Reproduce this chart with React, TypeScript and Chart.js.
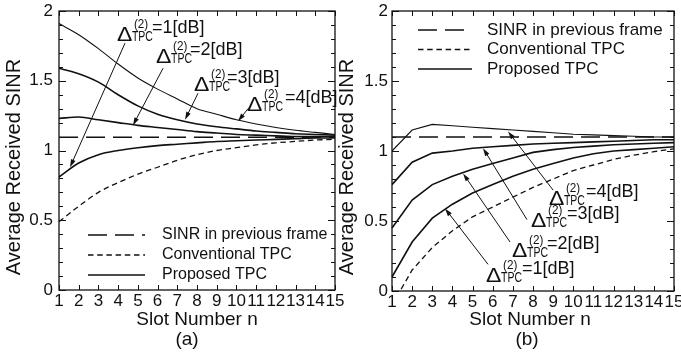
import React, { useEffect, useRef } from 'react';
import { Chart, registerables } from 'chart.js';

Chart.register(...registerables);

// ---------- data ----------
const SLOTS = ['1', '2', '3', '4', '5', '6', '7', '8', '9', '10', '11', '12', '13', '14', '15'];
const Y_TICKS = [0, 0.5, 1, 1.5, 2];

const LEGEND_LABELS = ['SINR in previous frame', 'Conventional TPC', 'Proposed TPC'];
const DELTA_VALUES = ['1', '2', '3', '4'];

// (a)
const A_PREV = [1.095, 1.095, 1.095, 1.095, 1.095, 1.095, 1.095, 1.095, 1.095, 1.095, 1.095, 1.095, 1.095, 1.095, 1.095];
const A_CONV = [0.49, 0.6, 0.7, 0.77, 0.83, 0.88, 0.93, 0.97, 1.0, 1.02, 1.04, 1.055, 1.065, 1.075, 1.08];
const A_D1 = [0.81, 0.91, 0.97, 1.0, 1.02, 1.035, 1.045, 1.055, 1.065, 1.07, 1.075, 1.08, 1.085, 1.09, 1.09];
const A_D2 = [1.23, 1.24, 1.22, 1.2, 1.18, 1.165, 1.15, 1.135, 1.125, 1.115, 1.11, 1.105, 1.1, 1.1, 1.1];
const A_D3 = [1.59, 1.55, 1.49, 1.4, 1.32, 1.26, 1.22, 1.19, 1.17, 1.155, 1.14, 1.13, 1.12, 1.115, 1.11];
const A_D4 = [1.91, 1.83, 1.73, 1.62, 1.52, 1.44, 1.37, 1.3, 1.26, 1.22, 1.19, 1.165, 1.145, 1.13, 1.115];

// (b)
const B_PREV = [1.1, 1.1, 1.1, 1.1, 1.1, 1.1, 1.1, 1.1, 1.1, 1.1, 1.1, 1.1, 1.1, 1.1, 1.1];
const B_CONV = [-0.1, 0.15, 0.31, 0.43, 0.53, 0.6, 0.67, 0.74, 0.8, 0.86, 0.9, 0.94, 0.97, 0.995, 1.015];
const B_D1 = [0.1, 0.35, 0.52, 0.62, 0.7, 0.76, 0.82, 0.87, 0.91, 0.95, 0.98, 1.0, 1.01, 1.02, 1.03];
const B_D2 = [0.45, 0.65, 0.76, 0.82, 0.87, 0.91, 0.95, 0.99, 1.01, 1.025, 1.035, 1.045, 1.05, 1.055, 1.06];
const B_D3 = [0.76, 0.92, 0.985, 1.0, 1.02, 1.03, 1.04, 1.05, 1.055, 1.06, 1.065, 1.07, 1.075, 1.08, 1.08];
const B_D4 = [1.0, 1.15, 1.19, 1.18, 1.17, 1.16, 1.15, 1.14, 1.13, 1.12, 1.115, 1.11, 1.105, 1.1, 1.1];

// ---------- styling / layout ----------
const FONT = "'Liberation Sans', Arial, Helvetica, sans-serif";
const INK = '#111111';
const DASH_PREV = [19, 8];
const DASH_CONV = [5.5, 3.7];

type Note = { tail: [number, number]; tip: [number, number]; at: [number, number]; eq: number };
type Panel = {
  prev: number[];
  conv: number[];
  proposed: number[][];
  smooth: boolean;
  pad: { left: number; right: number; top: number; bottom: number };
  yWidth: number;
  xHeight: number;
  yTickPad: number;
  yTitle: { x: number; y: number };
  xTitle: { x: number; y: number };
  tag: { text: string; x: number; y: number };
  legend: { x0: number; x1: number; tx: number; rows: number[]; size: number };
  notes: Note[];
};

const PANEL_A: Panel = {
  prev: A_PREV,
  conv: A_CONV,
  proposed: [A_D1, A_D2, A_D3, A_D4],
  smooth: true,
  pad: { left: 0, right: 346, top: 11, bottom: 0 },
  yWidth: 59,
  xHeight: 66,
  yTickPad: 6,
  yTitle: { x: 14, y: 167 },
  xTitle: { x: 197, y: 320 },
  tag: { text: '(a)', x: 187, y: 340 },
  legend: { x0: 88, x1: 145, tx: 162, rows: [235, 255, 275], size: 16 },
  notes: [
    { tail: [4.35, 1.77], tip: [1.56, 0.88], at: [3.99, 1.843], eq: 34 },
    { tail: [6.28, 1.59], tip: [4.75, 1.18], at: [5.97, 1.686], eq: 33 },
    { tail: [8.05, 1.41], tip: [7.39, 1.22], at: [7.9, 1.486], eq: 32 },
    { tail: [10.59, 1.3], tip: [10.08, 1.21], at: [10.59, 1.343], eq: 37 },
  ],
};

const PANEL_B: Panel = {
  prev: B_PREV,
  conv: B_CONV,
  proposed: [B_D1, B_D2, B_D3, B_D4],
  smooth: false,
  pad: { left: 340, right: 7, top: 11, bottom: 0 },
  yWidth: 52,
  xHeight: 65,
  yTickPad: 4,
  yTitle: { x: 347, y: 167 },
  xTitle: { x: 530, y: 320 },
  tag: { text: '(b)', x: 527, y: 340 },
  legend: { x0: 418, x1: 472, tx: 487, rows: [30, 49.5, 69], size: 17 },
  notes: [
    { tail: [5.77, 0.19], tip: [3.63, 0.59], at: [5.72, 0.121], eq: 35 },
    { tail: [6.86, 0.35], tip: [4.53, 0.84], at: [7.01, 0.3], eq: 34 },
    { tail: [7.7, 0.51], tip: [5.52, 1.02], at: [7.95, 0.514], eq: 35 },
    { tail: [9.0, 0.72], tip: [6.76, 1.14], at: [8.84, 0.671], eq: 36 },
  ],
};

function drawArrow(ctx: CanvasRenderingContext2D, x0: number, y0: number, x1: number, y1: number) {
  const ang = Math.atan2(y1 - y0, x1 - x0);
  const len = 8;
  const hw = 2.4;
  ctx.beginPath();
  ctx.moveTo(x0, y0);
  ctx.lineTo(x1 - Math.cos(ang) * len * 0.8, y1 - Math.sin(ang) * len * 0.8);
  ctx.stroke();
  ctx.beginPath();
  ctx.moveTo(x1, y1);
  ctx.lineTo(x1 - Math.cos(ang) * len - Math.sin(ang) * hw, y1 - Math.sin(ang) * len + Math.cos(ang) * hw);
  ctx.lineTo(x1 - Math.cos(ang) * len + Math.sin(ang) * hw, y1 - Math.sin(ang) * len - Math.cos(ang) * hw);
  ctx.closePath();
  ctx.fill();
}

function drawScaledText(ctx: CanvasRenderingContext2D, text: string, x: number, y: number, size: number, sx: number) {
  ctx.save();
  ctx.translate(x, y);
  ctx.scale(sx, 1);
  ctx.font = `${size}px ${FONT}`;
  ctx.fillText(text, 0, 0);
  ctx.restore();
}

function drawDeltaLabel(ctx: CanvasRenderingContext2D, x0: number, b: number, val: string, eq: number) {
  ctx.textAlign = 'left';
  ctx.textBaseline = 'alphabetic';
  drawScaledText(ctx, 'Δ', x0 - 1, b + 8, 20, 1.15);
  drawScaledText(ctx, '(2)', x0 + 16, b - 5, 13, 0.9);
  drawScaledText(ctx, 'TPC', x0 + 14, b + 8, 14, 0.75);
  drawScaledText(ctx, `=${val}[dB]`, x0 + eq, b, 18, 1);
}

function buildConfig(p: Panel): any {
  const lineBase = {
    borderColor: INK,
    pointRadius: 0,
    fill: false,
    cubicInterpolationMode: p.smooth ? 'monotone' : 'default',
    tension: 0,
  };
  const datasets: any[] = [
    { ...lineBase, label: LEGEND_LABELS[0], data: p.prev, borderWidth: 1.6, borderDash: DASH_PREV },
    { ...lineBase, label: LEGEND_LABELS[1], data: p.conv, borderWidth: 1.3, borderDash: DASH_CONV },
    ...p.proposed.map((d, i) => ({
      ...lineBase,
      label: `${LEGEND_LABELS[2]} Δ=${DELTA_VALUES[i]}[dB]`,
      data: d,
      borderWidth: i === 3 ? 1.1 : 1.6,
    })),
  ];

  const deco = {
    id: 'deco',
    afterDraw(chart: any) {
      const { ctx, chartArea: ca } = chart;
      const xs = chart.scales.x;
      const ys = chart.scales.y;
      ctx.save();
      ctx.strokeStyle = INK;
      ctx.fillStyle = INK;
      // frame
      ctx.lineWidth = 1.3;
      ctx.strokeRect(ca.left, ca.top, ca.right - ca.left, ca.bottom - ca.top);
      // inward ticks
      ctx.lineWidth = 1;
      ctx.beginPath();
      SLOTS.forEach((_, i) => {
        const px = Math.round(xs.getPixelForValue(i)) + 0.5;
        ctx.moveTo(px, ca.bottom);
        ctx.lineTo(px, ca.bottom - 5);
        ctx.moveTo(px, ca.top);
        ctx.lineTo(px, ca.top + 5);
      });
      for (let k = 0; k <= 20; k++) {
        const py = Math.round(ys.getPixelForValue(k / 10)) + 0.5;
        const len = k % 5 === 0 ? 7 : 4;
        ctx.moveTo(ca.left, py);
        ctx.lineTo(ca.left + len, py);
        ctx.moveTo(ca.right, py);
        ctx.lineTo(ca.right - len, py);
      }
      ctx.stroke();

      // titles
      ctx.textAlign = 'center';
      ctx.textBaseline = 'middle';
      ctx.font = `20px ${FONT}`;
      ctx.save();
      ctx.translate(p.yTitle.x, p.yTitle.y);
      ctx.rotate(-Math.PI / 2);
      ctx.fillText('Average Received SINR', 0, 0);
      ctx.restore();
      ctx.font = `19px ${FONT}`;
      ctx.fillText('Slot Number n', p.xTitle.x, p.xTitle.y);
      ctx.fillText(p.tag.text, p.tag.x, p.tag.y);

      // legend
      const lg = p.legend;
      ctx.textAlign = 'left';
      ctx.font = `${lg.size}px ${FONT}`;
      const dashes = [DASH_PREV, DASH_CONV, []];
      lg.rows.forEach((ry, i) => {
        ctx.save();
        ctx.lineWidth = 1.5;
        ctx.setLineDash(dashes[i]);
        ctx.beginPath();
        ctx.moveTo(lg.x0, ry);
        ctx.lineTo(lg.x1, ry);
        ctx.stroke();
        ctx.restore();
        ctx.fillText(LEGEND_LABELS[i], lg.tx, ry);
      });

      // annotations
      ctx.lineWidth = 1;
      p.notes.forEach((n, i) => {
        const tx = xs.getPixelForValue(n.tail[0] - 1);
        const ty = ys.getPixelForValue(n.tail[1]);
        const hx = xs.getPixelForValue(n.tip[0] - 1);
        const hy = ys.getPixelForValue(n.tip[1]);
        drawArrow(ctx, tx, ty, hx, hy);
        const lx = xs.getPixelForValue(n.at[0] - 1);
        const ly = ys.getPixelForValue(n.at[1]);
        drawDeltaLabel(ctx, lx, ly, DELTA_VALUES[i], n.eq);
      });
      ctx.restore();
    },
  };

  return {
    type: 'line',
    data: { labels: SLOTS, datasets },
    plugins: [deco],
    options: {
      animation: false,
      responsive: false,
      maintainAspectRatio: false,
      events: [],
      layout: { padding: p.pad },
      plugins: { legend: { display: false }, tooltip: { enabled: false }, title: { display: false } },
      scales: {
        x: {
          type: 'category',
          offset: false,
          grid: { display: false, drawTicks: false },
          border: { display: false },
          ticks: {
            autoSkip: false,
            maxRotation: 0,
            minRotation: 0,
            padding: 1,
            color: INK,
            font: { family: FONT, size: 17 },
          },
          afterFit: (s: any) => {
            s.height = p.xHeight;
            s.paddingLeft = 0;
            s.paddingRight = 0;
          },
        },
        y: {
          type: 'linear',
          min: 0,
          max: 2,
          grid: { display: false, drawTicks: false },
          border: { display: false },
          ticks: {
            padding: p.yTickPad,
            color: INK,
            font: { family: FONT, size: 17 },
            callback: (v: any) => String(v),
          },
          afterBuildTicks: (s: any) => {
            s.ticks = Y_TICKS.map((v) => ({ value: v }));
          },
          afterFit: (s: any) => {
            s.width = p.yWidth;
            s.paddingTop = 0;
            s.paddingBottom = 0;
          },
        },
      },
    },
  };
}

export default function App() {
  const refA = useRef<HTMLCanvasElement>(null);
  const refB = useRef<HTMLCanvasElement>(null);
  useEffect(() => {
    const a = new Chart(refA.current as HTMLCanvasElement, buildConfig(PANEL_A));
    const b = new Chart(refB.current as HTMLCanvasElement, buildConfig(PANEL_B));
    return () => {
      a.destroy();
      b.destroy();
    };
  }, []);
  return (
    <div style={{ position: 'absolute', left: 0, top: 0, width: 681, height: 356, background: '#fff', overflow: 'hidden' }}>
      <canvas ref={refA} width={681} height={356} style={{ position: 'absolute', left: 0, top: 0 }} />
      <canvas ref={refB} width={681} height={356} style={{ position: 'absolute', left: 0, top: 0 }} />
    </div>
  );
}
